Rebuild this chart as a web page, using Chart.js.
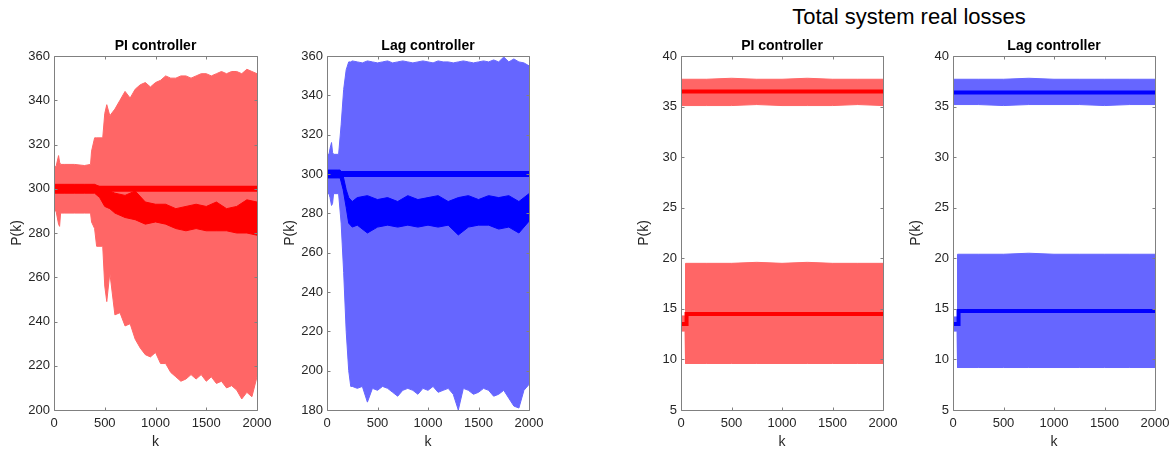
<!DOCTYPE html>
<html>
<head>
<meta charset="utf-8">
<script src="https://cdn.jsdelivr.net/npm/chart.js@4.4.1/dist/chart.umd.min.js"></script>
<style>
  html, body { margin: 0; padding: 0; background: #fff; }
  #wrap { position: relative; width: 1172px; height: 451px; overflow: hidden; }
  canvas { position: absolute; top: 0; }
  #suptitle {
    position: absolute; top: 6px; left: 709px; width: 400px; text-align: center;
    font: 22px "Liberation Sans", Arial, sans-serif; line-height: 22px; color: #000;
  }
</style>
</head>
<body>
<div id="wrap">
  <div id="suptitle">Total system real losses</div>
  <canvas id="c1" width="279" height="451" style="left:0px"></canvas>
  <canvas id="c2" width="278" height="451" style="left:273px"></canvas>
  <canvas id="c3" width="278" height="451" style="left:627px"></canvas>
  <canvas id="c4" width="278" height="451" style="left:899px"></canvas>
</div>
<script>
/*************************************************
 * DATA
 *************************************************/
const kTicks = [0, 500, 1000, 1500, 2000];
const piYTicks = [200, 220, 240, 260, 280, 300, 320, 340, 360];
const lagYTicks = [180, 200, 220, 240, 260, 280, 300, 320, 340, 360];
const lossYTicks = [5, 10, 15, 20, 25, 30, 35, 40];

// PI controller - envelope
const piK = [0, 20, 45, 55, 65, 100, 200, 300, 360, 370, 400, 420, 480, 500, 520, 550, 600, 650, 700, 750,
  800, 850, 900, 950, 1000, 1050, 1100, 1150, 1200, 1250, 1300, 1350, 1400, 1450, 1500, 1550, 1600, 1650,
  1700, 1750, 1800, 1850, 1900, 1950, 2000];
const piUpper = [310, 310, 315, 312, 311, 311, 311, 310.5, 311, 317, 323, 323, 323, 334, 338, 333, 336, 340, 344, 341,
  345, 347, 348, 346, 348, 349, 351, 350, 350, 351, 351, 350, 351, 352, 352, 351, 352, 353,
  352, 353, 353, 352, 354, 353, 352];
const piLower = [290, 290, 284, 283, 289, 289, 289, 289, 289, 285, 282, 274, 274, 256, 249, 262, 243, 244, 238, 239,
  232, 228, 225, 224, 226, 221, 221, 217, 215, 213, 214, 216, 214, 216, 213, 215, 212, 213,
  210, 211, 209, 205, 208, 206, 215];
// PI controller - mean traces
const piMidK = [0, 100, 200, 300, 400, 450, 500, 550, 600, 700, 800, 900, 1000, 1100, 1200, 1300, 1400, 1500,
  1600, 1700, 1800, 1900, 2000];
const piMidHi = [302, 302, 302, 302, 302, 301, 300, 299, 298, 297, 299, 294, 293, 293, 291, 292, 293, 292,
  294, 291, 292, 295, 294];
const piMidLo = [298, 298, 298, 298, 298, 296, 292, 291, 289, 287, 286, 284, 285, 284, 282, 281, 282, 281,
  281, 281, 280, 280, 279];
const flatK = [0, 500, 1000, 1500, 2000];
const piFlat = [300, 300, 300, 300, 300];

// Lag controller - envelope
const lagK = [0, 20, 30, 45, 55, 65, 100, 115, 140, 165, 190, 215, 235, 250, 300, 350,
  400, 450, 500, 550, 600, 650, 700, 750, 800, 850, 900, 950, 1000, 1050, 1100, 1150, 1200, 1250,
  1300, 1350, 1400, 1450, 1500, 1550, 1600, 1650, 1700, 1750, 1800, 1850, 1900, 1950, 2000];
const lagUpper = [310, 310, 313, 316, 311, 310, 310, 310, 325, 343, 353, 357, 357, 357.5, 357, 356.5,
  357.5, 357, 356.5, 357, 357.5, 356.5, 357, 357.5, 357, 356.5, 357, 357.5, 357, 356.5, 357.5, 357, 357, 356.5,
  357, 357.5, 357, 356.5, 357, 357.5, 357, 358, 357, 359.5, 357, 358.5, 357, 356.5, 355];
const lagLower = [290, 290, 288, 284, 285, 290, 290, 290, 275, 250, 220, 200, 192, 192, 191, 192,
  184, 191, 190, 192, 191, 189, 187, 190, 191, 190, 188, 191, 190, 192, 189, 190, 191, 188,
  180, 191, 190, 188, 189, 191, 190, 187, 188, 190, 186, 182, 181, 190, 193];
// Lag controller - mean traces
const lagMidK = [0, 100, 130, 160, 190, 215, 250, 300, 400, 500, 600, 700, 800, 900, 1000, 1100, 1200,
  1300, 1400, 1500, 1600, 1700, 1800, 1900, 2000];
const lagMidHi = [302, 302, 302, 299, 292, 288, 286, 288, 289, 287, 288, 286, 289, 287, 288, 289, 286,
  288, 289, 287, 289, 288, 289, 286, 290];
const lagMidLo = [298, 298, 298, 292, 283, 275, 273, 274, 270, 273, 274, 273, 274, 273, 274, 273, 274,
  269, 273, 274, 274, 272, 273, 270, 276];
const lagFlat = [300, 300, 300, 300, 300];

// Losses
const lossHiK = [0, 250, 500, 750, 1000, 1250, 1500, 1750, 2000];
const lossLoK = [0, 40, 45, 250, 500, 750, 1000, 1250, 1500, 1750, 2000];
const lossStepK = [0, 50, 55, 2000];

const piLossHiTop = [37.7, 37.7, 37.8, 37.7, 37.7, 37.8, 37.7, 37.7, 37.7];
const piLossHiBot = [35.1, 35.1, 35.1, 35.2, 35.1, 35.1, 35.1, 35.2, 35.1];
const piLossHiMid = [36.5, 36.5, 36.5, 36.5, 36.5, 36.5, 36.5, 36.5, 36.5];
const piLossLoTop = [14.3, 14.3, 19.5, 19.5, 19.5, 19.6, 19.5, 19.6, 19.5, 19.5, 19.5];
const piLossLoBot = [12.8, 12.8, 9.6, 9.6, 9.6, 9.6, 9.6, 9.6, 9.6, 9.6, 9.6];
const piLossStep = [13.5, 13.5, 14.5, 14.5];

const lagLossHiTop = [37.7, 37.7, 37.7, 37.8, 37.7, 37.7, 37.7, 37.7, 37.7];
const lagLossHiBot = [35.2, 35.2, 35.1, 35.2, 35.2, 35.2, 35.1, 35.2, 35.2];
const lagLossHiMid = [36.4, 36.4, 36.4, 36.4, 36.4, 36.4, 36.4, 36.4, 36.4];
const lagLossLoTop = [14.2, 14.2, 20.4, 20.4, 20.4, 20.5, 20.4, 20.4, 20.4, 20.4, 20.4];
const lagLossLoBot = [12.8, 12.8, 9.2, 9.2, 9.2, 9.2, 9.2, 9.2, 9.2, 9.2, 9.2];
const lagLossStep = [13.5, 13.5, 14.8, 14.8];

/*************************************************
 * STYLE
 *************************************************/
const FONT = "'Liberation Sans', Arial, Helvetica, sans-serif";
const RED = "#ff0000", RED_FILL = "#ff6666";
const BLUE = "#0000ff", BLUE_FILL = "#6666ff";
const AXIS_GRAY = "#808080";
const TEXT_GRAY = "#262626";

/*************************************************
 * HELPERS
 *************************************************/
function pts(ks, vals) {
  return ks.map((k, i) => ({ x: k, y: vals[i] }));
}

function line(ks, vals, color, width) {
  return {
    data: pts(ks, vals), borderColor: color, borderWidth: width,
    pointRadius: 0, fill: false, tension: 0
  };
}

// band = upper trace filled down to the following (lower) trace
function bandTop(ks, vals, color) {
  return {
    data: pts(ks, vals), borderColor: color, backgroundColor: color, borderWidth: 1,
    pointRadius: 0, fill: "+1", tension: 0
  };
}
function bandBottom(ks, vals, color) {
  return {
    data: pts(ks, vals), borderColor: color, borderWidth: 1,
    pointRadius: 0, fill: false, tension: 0
  };
}

// MATLAB-like box with inward ticks on all four sides
const boxPlugin = {
  id: "matlabBox",
  afterDatasetsDraw(chart) {
    const { ctx, chartArea: a, scales: { x, y } } = chart;
    const L = Math.round(a.left) + 0.5, R = Math.round(a.right) + 0.5;
    const T = Math.round(a.top) + 0.5, B = Math.round(a.bottom) + 0.5;
    const tl = 3;
    ctx.save();
    ctx.strokeStyle = AXIS_GRAY;
    ctx.lineWidth = 1;
    ctx.beginPath();
    ctx.rect(L, T, R - L, B - T);
    x.ticks.forEach(t => {
      const px = Math.round(x.getPixelForValue(t.value)) + 0.5;
      ctx.moveTo(px, B); ctx.lineTo(px, B - tl);
      ctx.moveTo(px, T); ctx.lineTo(px, T + tl);
    });
    y.ticks.forEach(t => {
      const py = Math.round(y.getPixelForValue(t.value)) + 0.5;
      ctx.moveTo(L, py); ctx.lineTo(L + tl, py);
      ctx.moveTo(R, py); ctx.lineTo(R - tl, py);
    });
    ctx.stroke();
    ctx.restore();
  }
};

function renderPanel(id, title, datasets, yMin, yMax, yTicks) {
  const el = document.getElementById(id);
  if (!el) return;

  new Chart(el, {
    type: "line",
    data: { datasets },
    options: {
      responsive: false,
      animation: false,
      events: [],
      layout: { padding: { top: 0, left: 0, right: 22, bottom: 0 } },
      plugins: {
        legend: { display: false },
        tooltip: { enabled: false },
        title: {
          display: true, text: title, color: "#000", fullSize: false,
          font: { family: FONT, size: 14, weight: "bold", lineHeight: 1.2 },
          padding: { top: 38, bottom: 1.2 }
        }
      },
      scales: {
        x: {
          type: "linear", min: 0, max: 2000,
          afterBuildTicks: s => { s.ticks = kTicks.map(v => ({ value: v })); },
          afterFit: s => { s.height = 41; },
          grid: { display: false, drawTicks: false },
          border: { display: false },
          ticks: {
            color: TEXT_GRAY, padding: 6, maxRotation: 0, font: { family: FONT, size: 13 },
            callback: v => String(v)
          },
          title: {
            display: true, text: "k", color: TEXT_GRAY,
            font: { family: FONT, size: 14 }, padding: { top: -2, bottom: 0 }
          }
        },
        y: {
          type: "linear", min: yMin, max: yMax,
          afterBuildTicks: s => { s.ticks = yTicks.map(v => ({ value: v })); },
          afterFit: s => { s.width = 54; },
          grid: { display: false, drawTicks: false },
          border: { display: false },
          ticks: {
            color: TEXT_GRAY, padding: 4, font: { family: FONT, size: 13 },
            callback: v => String(v)
          },
          title: {
            display: true, text: "P(k)", color: TEXT_GRAY,
            font: { family: FONT, size: 14 }, padding: { top: 8.6, bottom: 0 }
          }
        }
      }
    },
    plugins: [boxPlugin]
  });
}

/*************************************************
 * DRAW
 *************************************************/
document.addEventListener("DOMContentLoaded", () => {
  renderPanel("c1", "PI controller", [
    line(flatK, piFlat, RED, 6),
    bandTop(piMidK, piMidHi, RED),
    bandBottom(piMidK, piMidLo, RED),
    bandTop(piK, piUpper, RED_FILL),
    bandBottom(piK, piLower, RED_FILL)
  ], 200, 360, piYTicks);

  renderPanel("c2", "Lag controller", [
    line(flatK, lagFlat, BLUE, 6),
    bandTop(lagMidK, lagMidHi, BLUE),
    bandBottom(lagMidK, lagMidLo, BLUE),
    bandTop(lagK, lagUpper, BLUE_FILL),
    bandBottom(lagK, lagLower, BLUE_FILL)
  ], 180, 360, lagYTicks);

  renderPanel("c3", "PI controller", [
    line(lossHiK, piLossHiMid, RED, 4),
    line(lossStepK, piLossStep, RED, 4),
    bandTop(lossHiK, piLossHiTop, RED_FILL),
    bandBottom(lossHiK, piLossHiBot, RED_FILL),
    bandTop(lossLoK, piLossLoTop, RED_FILL),
    bandBottom(lossLoK, piLossLoBot, RED_FILL)
  ], 5, 40, lossYTicks);

  renderPanel("c4", "Lag controller", [
    line(lossHiK, lagLossHiMid, BLUE, 4),
    line(lossStepK, lagLossStep, BLUE, 4),
    bandTop(lossHiK, lagLossHiTop, BLUE_FILL),
    bandBottom(lossHiK, lagLossHiBot, BLUE_FILL),
    bandTop(lossLoK, lagLossLoTop, BLUE_FILL),
    bandBottom(lossLoK, lagLossLoBot, BLUE_FILL)
  ], 5, 40, lossYTicks);
});
</script>
</body>
</html>
